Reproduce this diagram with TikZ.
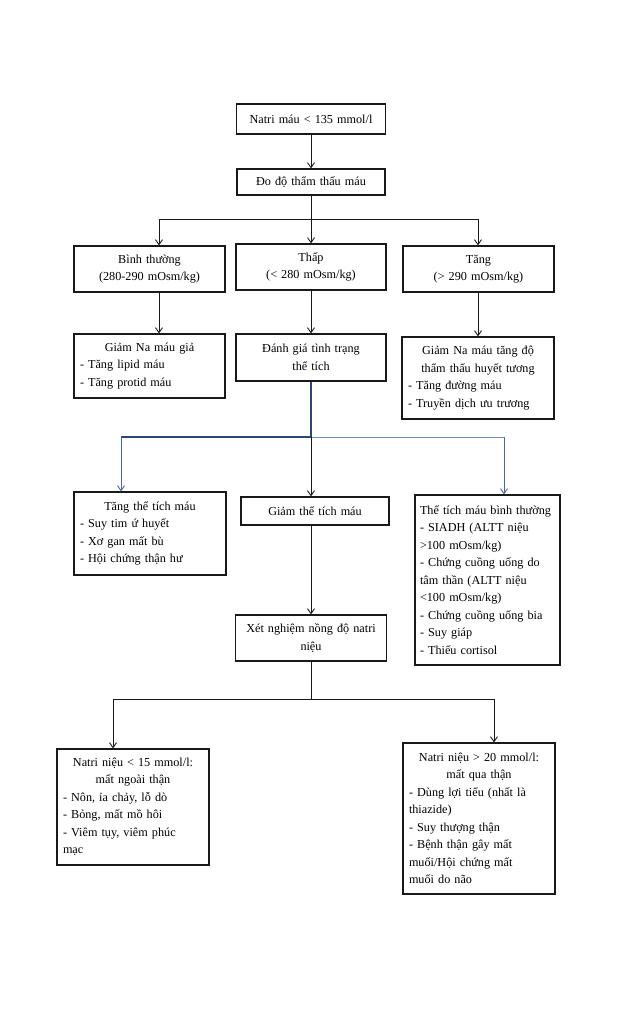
\documentclass[tikz,border=0pt]{standalone}
\usepackage{fontspec}
\setmainfont{Liberation Serif}
\usetikzlibrary{arrows.meta}
\setlength{\parindent}{0pt}
\newcommand{\ctrline}[1]{\makebox[\linewidth][c]{#1}\\}
\begin{document}
\begin{tikzpicture}[x=1pt,y=-1pt,
  box/.style={draw=black!90, line width=1.2pt, rectangle, inner xsep=6pt, inner ysep=0pt,
    font=\fontsize{12.2}{17.5}\selectfont},
  cbox/.style={box, align=center},
  lbox/.style={box, align=left},
  ln/.style={line width=0.9pt, black!90},
  arr/.style={ln, -{Straight Barb[length=5pt,width=7pt]}},
  bdark/.style={line width=1.6pt, draw={rgb,255:red,40;green,72;blue,120}},
  blight/.style={line width=0.9pt, draw={rgb,255:red,110;green,140;blue,190}},
  barr/.style={line width=0.9pt, draw={rgb,255:red,70;green,105;blue,160}, -{Straight Barb[length=5pt,width=7pt]}}]
\fill[white] (0,0) rectangle (627,1024);
\useasboundingbox (0,0) rectangle (627,1024);

% row 1-2
\node[cbox, text width=137pt, minimum height=30pt] (n1) at (311,119) {Natri máu < 135 mmol/l};
\node[cbox, text width=136pt, minimum height=26pt] (n2) at (311,182) {Đo độ thẩm thấu máu};

% row 3
\node[cbox, text width=139pt, minimum height=46pt] (n3a) at (149.5,269) {Bình thường\\(280-290 mOsm/kg)};
\node[cbox, text width=138pt, minimum height=46pt] (n3b) at (311,267) {Thấp\\(< 280 mOsm/kg)};
\node[cbox, text width=139pt, minimum height=46pt] (n3c) at (478.5,269) {Tăng\\(> 290 mOsm/kg)};

% row 4
\node[lbox, text width=139pt, minimum height=64pt] (n4a) at (149.5,366)
  {\ctrline{Giảm Na máu giả}- Tăng lipid máu\\- Tăng protid máu};
\node[cbox, text width=138pt, minimum height=47pt] (n4b) at (311,357.5) {Đánh giá tình trạng\\thể tích};
\node[lbox, text width=140pt, minimum height=82pt] (n4c) at (478,378)
  {\ctrline{Giảm Na máu tăng độ}\ctrline{thẩm thấu huyết tương}- Tăng đường máu\\- Truyền dịch ưu trương};

% row 5
\node[lbox, text width=140pt, minimum height=83pt] (n5a) at (150,533.5)
  {\ctrline{Tăng thể tích máu}- Suy tim ứ huyết\\- Xơ gan mất bù\\- Hội chứng thận hư};
\node[cbox, text width=136pt, minimum height=28pt] (n5b) at (315,511) {Giảm thể tích máu};
\node[lbox, inner xsep=5pt, text width=135pt, minimum height=170pt] (n5c) at (487.5,580)
  {\mbox{Thể tích máu bình thường}\\- SIADH (ALTT niệu\\>100 mOsm/kg)\\- Chứng cuồng uống do\\tâm thần (ALTT niệu\\<100 mOsm/kg)\\- Chứng cuồng uống bia\\- Suy giáp\\- Thiếu cortisol};

% row 6
\node[cbox, text width=139pt, minimum height=46pt] (n6) at (311,638) {Xét nghiệm nồng độ natri\\niệu};

% row 7
\node[lbox, text width=140pt, minimum height=116pt] (n7a) at (133,807)
  {\ctrline{Natri niệu < 15 mmol/l:}\ctrline{mất ngoài thận}- Nôn, ỉa chảy, lỗ dò\\- Bỏng, mất mồ hôi\\- Viêm tụy, viêm phúc\\mạc};
\node[lbox, text width=140pt, minimum height=151pt] (n7b) at (479,818.5)
  {\ctrline{Natri niệu > 20 mmol/l:}\ctrline{mất qua thận}- Dùng lợi tiểu (nhất là\\thiazide)\\- Suy thượng thận\\- Bệnh thận gây mất\\muối/Hội chứng mất\\muối do não};

% junctions
\coordinate (j1) at (311,219);
\coordinate (j1l) at (159,219);
\coordinate (j1r) at (478,219);
\coordinate (j3) at (311,437);
\coordinate (j3l) at (121,437);
\coordinate (j3r) at (504,437);
\coordinate (j4) at (311,699);
\coordinate (j4l) at (113,699);
\coordinate (j4r) at (494,699);

% connectors
\draw[arr] (n1.south) -- (n2.north);
\draw[ln] (n2.south) -- (j1);
\draw[ln] (j1l) -- (j1r);
\draw[arr] (j1) -- (n3b.north);
\draw[arr] (j1l) -- (j1l |- n3a.north);
\draw[arr] (j1r) -- (j1r |- n3c.north);
\draw[arr] (j1l |- n3a.south) -- (j1l |- n4a.north);
\draw[arr] (n3b.south) -- (n4b.north);
\draw[arr] (j1r |- n3c.south) -- (j1r |- n4c.north);

\draw[bdark] (n4b.south) -- (j3);
\draw[bdark] (j3) -- (j3l);
\draw[blight] (j3) -- (j3r);
\draw[barr] (j3l) -- (j3l |- n5a.north);
\draw[barr] (j3r) -- (j3r |- n5c.north);
\draw[arr] (j3) -- (j3 |- n5b.north);

\draw[arr] (j3 |- n5b.south) -- (n6.north);
\draw[ln] (n6.south) -- (j4);
\draw[ln] (j4l) -- (j4r);
\draw[arr] (j4l) -- (j4l |- n7a.north);
\draw[arr] (j4r) -- (j4r |- n7b.north);
\end{tikzpicture}
\end{document}
